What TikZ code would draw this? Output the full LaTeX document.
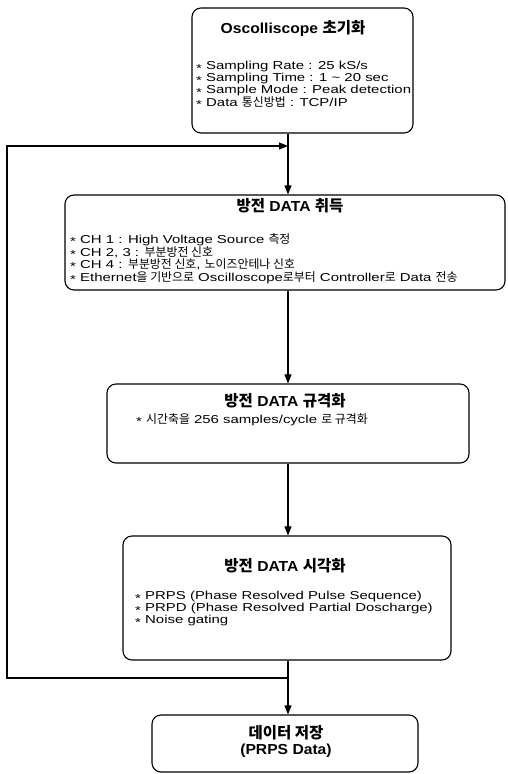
\documentclass[tikz,border=0pt]{standalone}
\usepackage{fontspec}
\setmainfont{Liberation Sans}
\newfontfamily\kor{Noto Sans CJK KR}
\usetikzlibrary{arrows.meta}
\newcommand{\kr}[1]{{\kor\fontsize{11.9}{12}\selectfont #1}}
\newcommand{\krt}[1]{{\kor\bfseries\fontsize{15.5}{16}\selectfont #1}}
\newcommand{\bul}{\raisebox{-0.35ex}{*}\ }
\newcommand{\bulfont}{\fontsize{11.5}{12}\selectfont\addfontfeatures{FakeStretch=1.3}}
\newcommand{\ttlfont}{\fontsize{14.5}{16}\selectfont\bfseries\addfontfeatures{FakeStretch=1.08}}
\tikzset{
  box/.style={draw, line width=1.1pt, rounded corners=9pt, inner sep=0pt},
  ttl/.style={font=\ttlfont, anchor=center, inner sep=0pt},
  bl/.style={font=\bulfont, anchor=west, inner sep=0pt, align=left},
  arr/.style={line width=1.1pt, -{Triangle[length=9pt,width=7pt]}},
  ln/.style={line width=1.1pt}
}
\begin{document}
\begin{tikzpicture}[x=1pt,y=-1pt]
\useasboundingbox (0,0) rectangle (507,774);
% boxes
\node[box, minimum width=221pt, minimum height=125pt] (b1) at (302.5,70.5) {};
\node[box, minimum width=440pt, minimum height=95pt] (b2) at (285,242.5) {};
\node[box, minimum width=362pt, minimum height=79pt] (b3) at (288,423.5) {};
\node[box, minimum width=328pt, minimum height=124pt] (b4) at (287,598) {};
\node[box, minimum width=266pt, minimum height=57pt] (b5) at (285,743.5) {};
% texts box1
\node[ttl] (t1) at (293,28) {Oscolliscope \krt{초기화}};
\node[bl] (t1a) at (196,67) {\bul Sampling Rate : 25 kS/s};
\node[bl] (t1b) at (196,79) {\bul Sampling Time : 1 \textasciitilde{} 20 sec};
\node[bl] (t1c) at (196,91) {\bul Sample Mode : Peak detection};
\node[bl] (t1d) at (196,103) {\bul Data \kr{통신방법} : TCP/IP};
% box2
\node[ttl] (t2) at (290,206) {\krt{방전} DATA \krt{취득}};
\node[bl] (t2a) at (70,240) {\bul CH 1 : High Voltage Source \kr{측정}};
\node[bl] (t2b) at (70,252.5) {\bul CH 2, 3 : \kr{부분방전 신호}};
\node[bl] (t2c) at (70,265) {\bul CH 4 : \kr{부분방전 신호}, \kr{노이즈안테나 신호}};
\node[bl] (t2d) at (70,277.5) {\bul Ethernet\kr{을 기반으로} Oscilloscope\kr{로부터} Controller\kr{로} Data \kr{전송}};
% box3
\node[ttl] (t3) at (285,401) {\krt{방전} DATA \krt{규격화}};
\node[bl] (t3a) at (136,420) {\bul \kr{시간축을} 256 samples/cycle \kr{로 규격화}};
% box4
\node[ttl] (t4) at (285,566) {\krt{방전} DATA \krt{시각화}};
\node[bl] (t4a) at (135,597) {\bul PRPS (Phase Resolved Pulse Sequence)};
\node[bl] (t4b) at (135,609) {\bul PRPD (Phase Resolved Partial Doscharge)};
\node[bl] (t4c) at (135,621) {\bul Noise gating};
% box5
\node[ttl] (t5a) at (286,733) {\krt{데이터 저장}};
\node[ttl] (t5b) at (286,751) {(PRPS Data)};
% connectors
\coordinate (c) at (288,0);
\coordinate (j1) at (288,146);
\coordinate (j2) at (288,678);
\coordinate (l1) at (7,146);
\coordinate (l2) at (7,678);
\draw[arr] (b1.south -| c) -- (b2.north -| c);
\draw[arr] (b2.south -| c) -- (b3.north -| c);
\draw[arr] (b3.south -| c) -- (b4.north -| c);
\draw[arr] (b4.south -| c) -- (b5.north -| c);
\draw[arr] (j2) -- (l2) -- (l1) -- (j1);
\end{tikzpicture}
\end{document}
